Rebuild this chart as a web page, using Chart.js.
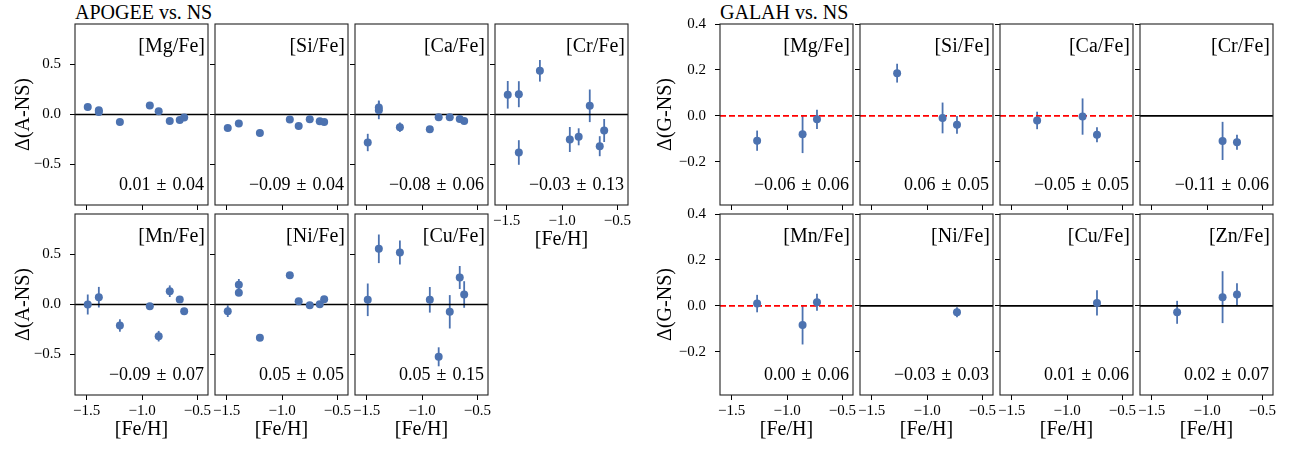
<!DOCTYPE html>
<html>
<head>
<meta charset="utf-8">
<script src="https://cdn.jsdelivr.net/npm/chart.js@4.4.1/dist/chart.umd.min.js"></script>
<style>
    body { margin: 0; background: #fff; width: 1299px; height: 450px; overflow: hidden; position: relative; }
    canvas { position: absolute; }
    .titulo { position: absolute; font-family: 'Liberation Serif', serif; font-size: 20px; line-height: 24px; color: #000; }
</style>
</head>
<body>
<div class="titulo" style="left:75px;top:0px">APOGEE vs. NS</div>
<div class="titulo" style="left:720px;top:0px">GALAH vs. NS</div>
<script>
// [Fe/H] of the stars in each sample
var feHApogee = [-1.49, -1.39, -1.39, -1.20, -0.93, -0.85, -0.75, -0.66, -0.62];
var feHGalah = [-1.27, -0.86, -0.73];

var xTicks = [-1.5, -1.0, -0.5];
var apogeeYTicks = [-0.5, 0, 0.5];
var galahYTicks = [-0.2, 0, 0.2, 0.4];

// APOGEE - NS
var apogeeElementos = ['[Mg/Fe]', '[Si/Fe]', '[Ca/Fe]', '[Cr/Fe]', '[Mn/Fe]', '[Ni/Fe]', '[Cu/Fe]'];
var apogeeDelta = [
    [0.076, 0.026, 0.043, -0.074, 0.090, 0.033, -0.064, -0.054, -0.030],
    [-0.134, -0.090, null, -0.184, -0.050, -0.114, -0.047, -0.067, -0.074],
    [-0.280, 0.043, 0.070, -0.127, -0.147, -0.027, -0.027, -0.044, -0.064],
    [0.197, 0.203, -0.380, 0.437, -0.250, -0.223, 0.087, -0.317, -0.160],
    [0.000, 0.073, null, -0.210, -0.017, -0.317, 0.133, 0.050, -0.067],
    [-0.067, 0.197, 0.117, -0.333, 0.293, 0.033, -0.007, 0.003, 0.053],
    [0.047, 0.557, null, 0.520, 0.047, -0.523, -0.073, 0.270, 0.100]
];
var apogeeErro = [
    [0.02, 0.02, 0.02, 0.02, 0.02, 0.02, 0.02, 0.02, 0.02],
    [0.02, 0.02, null, 0.02, 0.02, 0.02, 0.02, 0.02, 0.02],
    [0.087, 0.09, 0.07, 0.047, 0.02, 0.02, 0.02, 0.02, 0.02],
    [0.138, 0.130, 0.123, 0.108, 0.125, 0.085, 0.163, 0.100, 0.115],
    [0.100, 0.103, null, 0.062, 0.030, 0.053, 0.058, 0.030, 0.030],
    [0.058, 0.058, 0.030, 0.020, 0.020, 0.020, 0.020, 0.020, 0.020],
    [0.163, 0.143, null, 0.120, 0.128, 0.095, 0.167, 0.115, 0.133]
];
var apogeeMedia = [0.01, -0.09, -0.08, -0.03, -0.09, 0.05, 0.05];
var apogeeDesvio = [0.04, 0.04, 0.06, 0.13, 0.07, 0.05, 0.15];

// GALAH - NS
var galahElementos = ['[Mg/Fe]', '[Si/Fe]', '[Ca/Fe]', '[Cr/Fe]', '[Mn/Fe]', '[Ni/Fe]', '[Cu/Fe]', '[Zn/Fe]'];
var galahDelta = [
    [-0.108, -0.080, -0.015],
    [0.186, -0.009, -0.039],
    [-0.020, -0.003, -0.082],
    [null, -0.109, -0.115],
    [0.010, -0.083, 0.016],
    [null, null, -0.028],
    [null, null, 0.013],
    [-0.028, 0.038, 0.050]
];
var galahErro = [
    [0.044, 0.082, 0.042],
    [0.041, 0.067, 0.039],
    [0.038, 0.079, 0.033],
    [null, 0.083, 0.033],
    [0.038, 0.085, 0.037],
    [null, null, 0.022],
    [null, null, 0.055],
    [0.050, 0.113, 0.048]
];
var galahMedia = [-0.06, 0.06, -0.05, -0.11, 0.00, -0.03, 0.01, 0.02];
var galahDesvio = [0.06, 0.05, 0.05, 0.06, 0.06, 0.03, 0.06, 0.07];
// panels where the zero line is drawn red and dashed
var galahTracejado = [true, true, true, false, true, false, false, false];

var azul = '#4c72b0';
var fonte = "'Liberation Serif', serif";
var larguraPainel = 133, alturaPainel = 181;
// room around each panel for ticks and titles (top is wide enough for the tick label padding)
var margemEsq = 70, margemTopo = 20, margemDir = 22, margemBaixo = 50;

function formatarTick(v) {
    if (Math.abs(v) < 1e-9) return '0.0';
    return (v < 0 ? '\u2212' : '') + Math.abs(v).toFixed(1);
}

function formatarStat(m, s) {
    return (m < 0 ? '\u2212' : '') + Math.abs(m).toFixed(2) + ' \u200a\u00b1 \u200a' + s.toFixed(2);
}

var errorBars = {
    id: 'errorBars',
    beforeDatasetsDraw: function (chart) {
        var meta = chart.getDatasetMeta(0);
        var pontos = chart.data.datasets[0].data;
        var escalaY = chart.scales.y;
        var ctx = chart.ctx;
        var area = chart.chartArea;
        ctx.save();
        ctx.beginPath();
        ctx.rect(area.left, area.top, area.right - area.left, area.bottom - area.top);
        ctx.clip();
        ctx.strokeStyle = azul;
        ctx.lineWidth = 1.8;
        for (var i = 0; i < meta.data.length; i++) {
            var p = pontos[i];
            ctx.beginPath();
            ctx.moveTo(meta.data[i].x, escalaY.getPixelForValue(p.y - p.e));
            ctx.lineTo(meta.data[i].x, escalaY.getPixelForValue(p.y + p.e));
            ctx.stroke();
        }
        ctx.restore();
    }
};

var moldura = {
    id: 'moldura',
    afterDraw: function (chart, args, opts) {
        var ctx = chart.ctx;
        var a = chart.chartArea;
        ctx.save();
        ctx.strokeStyle = '#222';
        ctx.lineWidth = 1.1;
        ctx.strokeRect(a.left, a.top, a.right - a.left, a.bottom - a.top);

        ctx.fillStyle = '#000';
        ctx.textAlign = 'right';
        ctx.textBaseline = 'middle';
        ctx.font = '20px ' + fonte;
        ctx.fillText(opts.elemento, a.right - 3, a.top + 23);
        ctx.font = '18px ' + fonte;
        ctx.fillText(opts.stat, a.right - 4, a.bottom - 20);
        ctx.restore();
    }
};

function criarPainel(esq, topo, feH, delta, erro, cfg) {
    var canvas = document.createElement('canvas');
    var w = margemEsq + larguraPainel + margemDir;
    var h = margemTopo + alturaPainel + margemBaixo;
    canvas.width = w;
    canvas.height = h;
    canvas.style.left = (esq - margemEsq) + 'px';
    canvas.style.top = (topo - margemTopo) + 'px';
    document.body.appendChild(canvas);

    var pontos = [];
    for (var i = 0; i < feH.length; i++) {
        if (delta[i] == null) continue;
        pontos.push({ x: feH[i], y: delta[i], e: erro[i] });
    }

    new Chart(canvas, {
        type: 'scatter',
        data: {
            datasets: [{
                data: pontos,
                backgroundColor: azul,
                borderWidth: 0,
                pointRadius: 4,
                order: 0
            }, {
                data: [{ x: cfg.xMin, y: 0 }, { x: cfg.xMax, y: 0 }],
                showLine: true,
                borderColor: cfg.tracejado ? '#ff0000' : '#000',
                borderDash: cfg.tracejado ? [6, 3] : [],
                borderWidth: 1.6,
                pointRadius: 0,
                order: 1
            }]
        },
        options: {
            responsive: false,
            animation: false,
            events: [],
            layout: { autoPadding: false, padding: { left: 0, top: margemTopo, right: margemDir, bottom: 0 } },
            plugins: {
                legend: { display: false },
                tooltip: { enabled: false },
                moldura: { elemento: cfg.elemento, stat: cfg.stat }
            },
            scales: {
                x: {
                    type: 'linear',
                    min: cfg.xMin,
                    max: cfg.xMax,
                    afterBuildTicks: function (axis) {
                        axis.ticks = xTicks.map(function (v) { return { value: v }; });
                    },
                    afterFit: function (axis) { axis.height = margemBaixo; },
                    border: { display: false },
                    grid: { drawOnChartArea: false, drawTicks: true, tickLength: 5, color: '#000', lineWidth: 1 },
                    ticks: {
                        display: cfg.baixo,
                        autoSkip: false,
                        maxRotation: 0,
                        padding: 2,
                        color: '#000',
                        font: { family: fonte, size: 15 },
                        callback: formatarTick
                    },
                    title: {
                        display: cfg.baixo,
                        text: '[Fe/H]',
                        color: '#000',
                        font: { family: fonte, size: 20 },
                        padding: { top: 0, bottom: 3 }
                    }
                },
                y: {
                    type: 'linear',
                    min: cfg.yMin,
                    max: cfg.yMax,
                    afterBuildTicks: function (axis) {
                        axis.ticks = cfg.yTicks.map(function (v) { return { value: v }; });
                    },
                    afterFit: function (axis) { axis.width = margemEsq; },
                    border: { display: false },
                    grid: { drawOnChartArea: false, drawTicks: true, tickLength: 5, color: '#000', lineWidth: 1 },
                    ticks: {
                        display: cfg.primeira,
                        autoSkip: false,
                        padding: 9,
                        color: '#000',
                        font: { family: fonte, size: 15 },
                        callback: formatarTick
                    },
                    title: {
                        display: cfg.primeira,
                        text: cfg.rotuloY,
                        color: '#000',
                        font: { family: fonte, size: 20 },
                        padding: { top: cfg.padTitulo, bottom: 0 }
                    }
                }
            }
        },
        plugins: [errorBars, moldura]
    });
}

var colunasApogee = [75, 215, 355, 495];
var colunasGalah = [720, 860, 1000, 1140];
var linhas = [24, 214];

for (var k = 0; k < apogeeElementos.length; k++) {
    var col = k % 4, lin = Math.floor(k / 4);
    criarPainel(colunasApogee[col], linhas[lin], feHApogee, apogeeDelta[k], apogeeErro[k], {
        xMin: -1.605, xMax: -0.405,
        yMin: -0.905, yMax: 0.905,
        yTicks: apogeeYTicks,
        elemento: apogeeElementos[k],
        stat: formatarStat(apogeeMedia[k], apogeeDesvio[k]),
        tracejado: false,
        baixo: lin == 1 || k == 3,
        primeira: col == 0,
        rotuloY: '\u0394(A-NS)',
        padTitulo: 7
    });
}

for (var k = 0; k < galahElementos.length; k++) {
    var col = k % 4, lin = Math.floor(k / 4);
    criarPainel(colunasGalah[col], linhas[lin], feHGalah, galahDelta[k], galahErro[k], {
        xMin: -1.605, xMax: -0.405,
        yMin: -0.388, yMax: 0.4,
        yTicks: galahYTicks,
        elemento: galahElementos[k],
        stat: formatarStat(galahMedia[k], galahDesvio[k]),
        tracejado: galahTracejado[k],
        baixo: lin == 1,
        primeira: col == 0,
        rotuloY: '\u0394(G-NS)',
        padTitulo: 4
    });
}
</script>
</body>
</html>
